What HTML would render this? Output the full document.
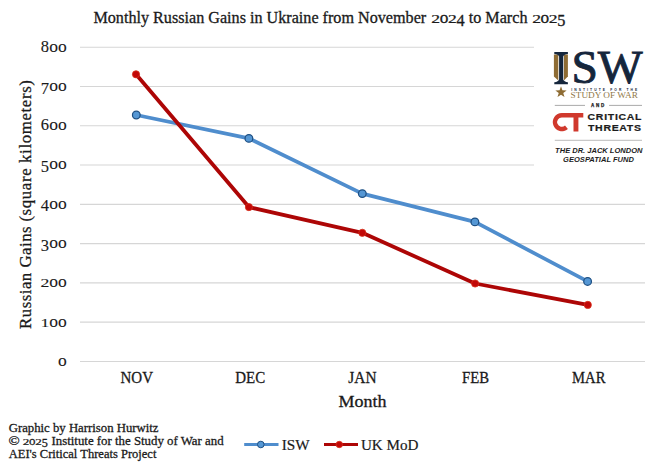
<!DOCTYPE html>
<html>
<head>
<meta charset="utf-8">
<style>
html,body{margin:0;padding:0;background:#fff;}
body{width:660px;height:464px;overflow:hidden;}
svg{display:block;}
text{font-family:"Liberation Serif",serif;fill:#1a1a1a;}
.sans{font-family:"Liberation Sans",sans-serif;}
</style>
</head>
<body>
<svg width="660" height="464" viewBox="0 0 660 464">
<rect x="0" y="0" width="660" height="464" fill="#ffffff"/>
<g stroke="#1a1a1a" stroke-width="0.3">
<text x="93.4" y="22.8" font-size="16.3" textLength="332.8" lengthAdjust="spacingAndGlyphs">Monthly Russian Gains in Ukraine from November</text>
<text transform="translate(435.67,22.80) scale(1.08,0.700)" font-size="16.30" text-anchor="middle">2</text>
<text x="444.00" y="22.80" font-size="17.28" text-anchor="middle">o</text>
<text transform="translate(452.32,22.80) scale(1.08,0.700)" font-size="16.30" text-anchor="middle">2</text>
<text x="460.65" y="25.80" font-size="16.30" text-anchor="middle">4</text>
<text x="468.7" y="22.8" font-size="16.3" textLength="58.8" lengthAdjust="spacingAndGlyphs">to March</text>
<text transform="translate(536.70,22.80) scale(1.08,0.700)" font-size="16.30" text-anchor="middle">2</text>
<text x="544.90" y="22.80" font-size="17.28" text-anchor="middle">o</text>
<text transform="translate(553.10,22.80) scale(1.08,0.700)" font-size="16.30" text-anchor="middle">2</text>
<text x="561.30" y="25.80" font-size="16.30" text-anchor="middle">5</text>
</g>
<g stroke="#d6d6d6" stroke-width="1.05">
<line x1="80" y1="47.30" x2="645" y2="47.30"/>
<line x1="80" y1="86.56" x2="645" y2="86.56"/>
<line x1="80" y1="125.83" x2="645" y2="125.83"/>
<line x1="80" y1="165.09" x2="645" y2="165.09"/>
<line x1="80" y1="204.35" x2="645" y2="204.35"/>
<line x1="80" y1="243.61" x2="645" y2="243.61"/>
<line x1="80" y1="282.88" x2="645" y2="282.88"/>
<line x1="80" y1="322.14" x2="645" y2="322.14"/>
<line x1="80" y1="361.40" x2="645" y2="361.40"/>
</g>
<g>
<text x="44.92" y="51.70" font-size="16.50" text-anchor="middle" stroke="#1a1a1a" stroke-width="0.12">8</text>
<text x="53.59" y="51.70" font-size="17.49" text-anchor="middle" stroke="#1a1a1a" stroke-width="0.12">o</text>
<text x="62.27" y="51.70" font-size="17.49" text-anchor="middle" stroke="#1a1a1a" stroke-width="0.12">o</text>
<text x="44.92" y="93.66" font-size="16.50" text-anchor="middle" stroke="#1a1a1a" stroke-width="0.12">7</text>
<text x="53.59" y="90.96" font-size="17.49" text-anchor="middle" stroke="#1a1a1a" stroke-width="0.12">o</text>
<text x="62.27" y="90.96" font-size="17.49" text-anchor="middle" stroke="#1a1a1a" stroke-width="0.12">o</text>
<text x="44.92" y="130.22" font-size="16.50" text-anchor="middle" stroke="#1a1a1a" stroke-width="0.12">6</text>
<text x="53.59" y="130.22" font-size="17.49" text-anchor="middle" stroke="#1a1a1a" stroke-width="0.12">o</text>
<text x="62.27" y="130.22" font-size="17.49" text-anchor="middle" stroke="#1a1a1a" stroke-width="0.12">o</text>
<text x="44.92" y="172.19" font-size="16.50" text-anchor="middle" stroke="#1a1a1a" stroke-width="0.12">5</text>
<text x="53.59" y="169.49" font-size="17.49" text-anchor="middle" stroke="#1a1a1a" stroke-width="0.12">o</text>
<text x="62.27" y="169.49" font-size="17.49" text-anchor="middle" stroke="#1a1a1a" stroke-width="0.12">o</text>
<text x="44.92" y="211.45" font-size="16.50" text-anchor="middle" stroke="#1a1a1a" stroke-width="0.12">4</text>
<text x="53.59" y="208.75" font-size="17.49" text-anchor="middle" stroke="#1a1a1a" stroke-width="0.12">o</text>
<text x="62.27" y="208.75" font-size="17.49" text-anchor="middle" stroke="#1a1a1a" stroke-width="0.12">o</text>
<text x="44.92" y="250.71" font-size="16.50" text-anchor="middle" stroke="#1a1a1a" stroke-width="0.12">3</text>
<text x="53.59" y="248.01" font-size="17.49" text-anchor="middle" stroke="#1a1a1a" stroke-width="0.12">o</text>
<text x="62.27" y="248.01" font-size="17.49" text-anchor="middle" stroke="#1a1a1a" stroke-width="0.12">o</text>
<text transform="translate(44.92,287.27) scale(1.08,0.720)" font-size="16.50" text-anchor="middle" stroke="#1a1a1a" stroke-width="0.12">2</text>
<text x="53.59" y="287.27" font-size="17.49" text-anchor="middle" stroke="#1a1a1a" stroke-width="0.12">o</text>
<text x="62.27" y="287.27" font-size="17.49" text-anchor="middle" stroke="#1a1a1a" stroke-width="0.12">o</text>
<text transform="translate(44.92,326.54) scale(1.08,0.720)" font-size="16.50" text-anchor="middle" stroke="#1a1a1a" stroke-width="0.12">1</text>
<text x="53.59" y="326.54" font-size="17.49" text-anchor="middle" stroke="#1a1a1a" stroke-width="0.12">o</text>
<text x="62.27" y="326.54" font-size="17.49" text-anchor="middle" stroke="#1a1a1a" stroke-width="0.12">o</text>
<text x="62.26" y="365.80" font-size="17.49" text-anchor="middle" stroke="#1a1a1a" stroke-width="0.12">o</text>
</g>
<g stroke="#1a1a1a" stroke-width="0.3" font-size="16.8">
<text transform="translate(31.3,328.9) rotate(-90)" textLength="102.5" lengthAdjust="spacing">Russian Gains</text>
<text transform="translate(31.3,221.6) rotate(-90)" textLength="141.5" lengthAdjust="spacing">(square kilometers)</text>
</g>
<g font-size="16.8" text-anchor="middle" stroke="#1a1a1a" stroke-width="0.3">
<text x="136.75" y="383.3" textLength="32.5" lengthAdjust="spacingAndGlyphs">NOV</text>
<text x="250.2" y="383.3" textLength="29.9" lengthAdjust="spacingAndGlyphs">DEC</text>
<text x="362.4" y="383.3" textLength="28.2" lengthAdjust="spacingAndGlyphs">JAN</text>
<text x="475.6" y="383.3" textLength="27.0" lengthAdjust="spacingAndGlyphs">FEB</text>
<text x="588.75" y="383.3" textLength="33.3" lengthAdjust="spacingAndGlyphs">MAR</text>
</g>
<text x="362.4" y="407" font-size="16.5" text-anchor="middle" textLength="48" lengthAdjust="spacingAndGlyphs" stroke="#1a1a1a" stroke-width="0.3">Month</text>

<rect x="534" y="38" width="126" height="134" fill="#ffffff"/>

<polyline points="136.3,115.0 248.9,138.4 362.3,193.6 474.9,221.9 587.6,281.4" fill="none" stroke="#4f8dcd" stroke-width="3.7" stroke-linejoin="round"/>
<g fill="#5597d4" stroke="#1f5083" stroke-width="1.25">
<circle cx="136.3" cy="115.0" r="3.85"/>
<circle cx="248.9" cy="138.4" r="3.85"/>
<circle cx="362.3" cy="193.6" r="3.85"/>
<circle cx="474.9" cy="221.9" r="3.85"/>
<circle cx="587.6" cy="281.4" r="3.85"/>
</g>
<polyline points="136.0,74.3 248.9,207.1 362.3,232.8 475.1,283.5 587.8,304.9" fill="none" stroke="#ad0606" stroke-width="3.8" stroke-linejoin="round"/>
<g fill="#c20808" stroke="#d8301a" stroke-width="0.8">
<circle cx="136.0" cy="74.3" r="3.6"/>
<circle cx="248.9" cy="207.1" r="3.6"/>
<circle cx="362.3" cy="232.8" r="3.6"/>
<circle cx="475.1" cy="283.5" r="3.6"/>
<circle cx="587.8" cy="304.9" r="3.6"/>
</g>

<g font-size="12.2" stroke="#1a1a1a" stroke-width="0.28">
<text x="8.7" y="432.2" textLength="149.8" lengthAdjust="spacingAndGlyphs">Graphic by Harrison Hurwitz</text>
<text x="8.6" y="444.9" font-size="12.8" textLength="11.2" lengthAdjust="spacingAndGlyphs">©</text>
<text transform="translate(26.11,444.90) scale(1.08,0.700)" font-size="12.20" text-anchor="middle">2</text>
<text x="32.33" y="444.90" font-size="12.93" text-anchor="middle">o</text>
<text transform="translate(38.55,444.90) scale(1.08,0.700)" font-size="12.20" text-anchor="middle">2</text>
<text x="44.77" y="446.90" font-size="12.20" text-anchor="middle">5</text>
<text x="51.5" y="444.9" textLength="172.1" lengthAdjust="spacingAndGlyphs">Institute for the Study of War and</text>
<text x="8.7" y="457.6" textLength="147.7" lengthAdjust="spacingAndGlyphs">AEI's Critical Threats Project</text>
</g>

<line x1="244.2" y1="444.5" x2="278.5" y2="444.5" stroke="#4f8dcd" stroke-width="3.0"/>
<circle cx="260.8" cy="444.5" r="3.3" fill="#5597d4" stroke="#1f5083" stroke-width="1.0"/>
<text x="281.8" y="449.5" font-size="15.6" stroke="#1a1a1a" stroke-width="0.2" textLength="27.9" lengthAdjust="spacingAndGlyphs">ISW</text>
<line x1="324" y1="444.5" x2="358" y2="444.5" stroke="#ad0606" stroke-width="3.2"/>
<circle cx="339.3" cy="444.5" r="3.2" fill="#c20808" stroke="#d8301a" stroke-width="0.8"/>
<text x="360.9" y="449.5" font-size="15.6" stroke="#1a1a1a" stroke-width="0.2" textLength="57.6" lengthAdjust="spacingAndGlyphs">UK MoD</text>

<g>
  <path d="M553.9,54.6 L558.3,54.6 L558.3,80.6 L553.9,76.4 Z" fill="#8e6c34"/>
  <path d="M567.9,54.6 L563.9,54.6 L563.9,80.6 L567.9,76.4 Z" fill="#8e6c34"/>
  <path d="M554.3,51.9 L567.9,51.9 L567.9,53.9 Q564,54.2 563.2,56.5 L563.2,79.5 Q564,81.9 567.9,82.2 L567.9,84.2 L554.3,84.2 L554.3,82.2 Q558.3,81.9 559.1,79.5 L559.1,56.5 Q558.3,54.2 554.3,53.9 Z" fill="#15263c"/>
  <text x="571.4" y="83.4" font-size="46.2" style="fill:#15263c" stroke="#15263c" stroke-width="0.9" textLength="71.3" lengthAdjust="spacingAndGlyphs">SW</text>
  <path d="M561.00,86.35 L562.40,90.37 L566.66,90.46 L563.26,93.04 L564.50,97.11 L561.00,94.68 L557.50,97.11 L558.74,93.04 L555.34,90.46 L559.60,90.37 Z" fill="#8e6c34"/>
  <text class="sans" x="571.2" y="91" font-size="3.3" font-weight="bold" style="fill:#15263c" textLength="66" lengthAdjust="spacing">INSTITUTE FOR THE</text>
  <text x="570.6" y="97.8" font-size="7.8" style="fill:#8f7848" textLength="67.3" lengthAdjust="spacingAndGlyphs">STUDY OF WAR</text>
  <line x1="554.8" y1="105.4" x2="585" y2="105.4" stroke="#a0a0a0" stroke-width="0.9"/>
  <line x1="609.1" y1="105.4" x2="642" y2="105.4" stroke="#a0a0a0" stroke-width="0.9"/>
  <text class="sans" x="590.9" y="107.1" font-size="4.5" font-weight="bold" style="fill:#222" stroke="#222" stroke-width="0.25" textLength="13.4" lengthAdjust="spacing">AND</text>
  <path d="M567.9,128.9 A9.1,9.1 0 1 1 561.8,113 L583.3,113 L583.3,117.4 L561.8,117.4 A4.7,4.7 0 1 0 565,125.6 Z" fill="#d0392d"/>
  <rect x="573.5" y="114" width="4.9" height="17.5" fill="#d0392d"/>
  <text class="sans" transform="translate(587.6,119.9) scale(1.2,1)" font-size="8.7" font-weight="bold" style="fill:#1c1c1c" stroke="#1c1c1c" stroke-width="0.2" textLength="44.9" lengthAdjust="spacing">CRITICAL</text>
  <text class="sans" transform="translate(588,131.4) scale(1.2,1)" font-size="8.8" font-weight="bold" style="fill:#1c1c1c" stroke="#1c1c1c" stroke-width="0.2" textLength="44.2" lengthAdjust="spacing">THREATS</text>
  <line x1="554.8" y1="140.3" x2="642" y2="140.3" stroke="#a8a8a8" stroke-width="0.8"/>
  <text class="sans" x="555.1" y="153" font-size="6.9" font-weight="bold" font-style="italic" style="fill:#1c1c1c" textLength="87.4" lengthAdjust="spacingAndGlyphs">THE DR. JACK LONDON</text>
  <text class="sans" x="563.1" y="162" font-size="6.9" font-weight="bold" font-style="italic" style="fill:#1c1c1c" textLength="70.8" lengthAdjust="spacingAndGlyphs">GEOSPATIAL FUND</text>
</g>
</svg>
</body>
</html>
